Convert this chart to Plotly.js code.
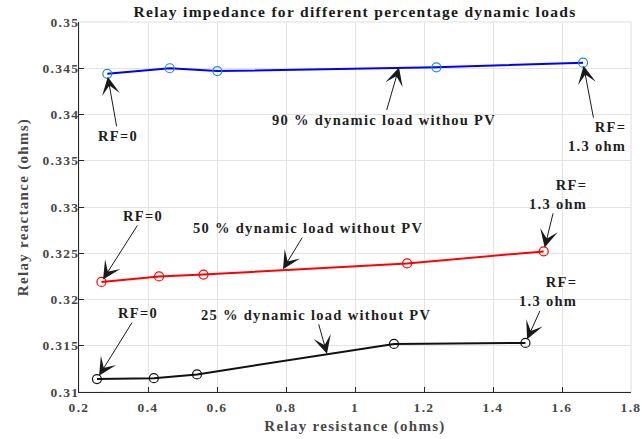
<!DOCTYPE html>
<html>
<head>
<meta charset="utf-8">
<script src="https://cdn.plot.ly/plotly-3.0.1.min.js"></script>
<style>
  html, body { margin: 0; padding: 0; background: #ffffff; }
  #chart { width: 642px; height: 439px; }
  svg text { letter-spacing: 1.3px; }
</style>
</head>
<body>
<div id="chart"></div>
<script>
// ---- data ----
const load90X = [0.282, 0.463, 0.601, 1.236, 1.661];
const load90Y = [0.3444, 0.3450, 0.3447, 0.3451, 0.3456];

const load50X = [0.265, 0.432, 0.561, 1.151, 1.547];
const load50Y = [0.3219, 0.3225, 0.3227, 0.3239, 0.3252];

const load25X = [0.252, 0.417, 0.542, 1.113, 1.494];
const load25Y = [0.3114, 0.3115, 0.3119, 0.3152, 0.3153];

const seriesNames = ['90 % dynamic load withou PV', '50 % dynamic load without PV', '25 % dynamic load without PV'];
const startLabel = 'RF=0';
const endLabel = 'RF=<br>1.3 ohm';
// points on the lines where the description arrows land
const labelPointX = [1.1275, 0.7913, 0.9188];
const labelPointY = [0.34508, 0.32328, 0.31413];

const serif = 'Liberation Serif, Times New Roman, serif';

function trace(x, y, lineColor, markerColor) {
  return {
    x: x, y: y, type: 'scatter', mode: 'lines+markers',
    line: {color: lineColor, width: 2},
    marker: {symbol: 'circle-open', size: 9, color: markerColor, line: {width: 1.2, color: markerColor}},
    hoverinfo: 'skip', showlegend: false
  };
}

const data = [
  trace(load90X, load90Y, '#0000ff', '#1c8ae0'),
  trace(load50X, load50Y, '#ff0000', '#ff0000'),
  trace(load25X, load25Y, '#111111', '#111111')
];

function ann(x, y, text, ax, ay, standoff, align) {
  return {
    x: x, y: y, xref: 'x', yref: 'y', text: text,
    showarrow: true, ax: ax, ay: ay,
    arrowhead: 3, arrowsize: 3, arrowwidth: 1, arrowcolor: '#1a1a1a',
    standoff: standoff || 0,
    align: align || 'center',
    font: {family: serif, size: 14.5, color: '#1e1e1e', weight: 'bold'},
    borderpad: 1
  };
}

const annotations = [
  ann(load90X[0], load90Y[0], startLabel, 11, 62, 3),
  ann(labelPointX[0], labelPointY[0], seriesNames[0], -15, 52, 0),
  ann(load90X[4], load90Y[4], endLabel, 14, 74, 3, 'right'),

  ann(load50X[0], load50Y[0], startLabel, 42, -66, 3),
  ann(labelPointX[1], labelPointY[1], seriesNames[1], 25, -41, 0),
  ann(load50X[4], load50Y[4], endLabel, 14, -57, 4, 'right'),

  ann(load25X[0], load25Y[0], startLabel, 41, -66, 4),
  ann(labelPointX[2], labelPointY[2], seriesNames[2], -11, -39, 0),
  ann(load25X[4], load25Y[4], endLabel, 23, -51, 4, 'right')
];

const layout = {
  width: 642, height: 439,
  margin: {l: 79, r: 11, t: 22, b: 47, pad: 0},
  paper_bgcolor: '#ffffff', plot_bgcolor: '#ffffff',
  title: {
    text: 'Relay impedance for different percentage dynamic loads',
    font: {family: serif, size: 15.5, color: '#1a1a1a', weight: 'bold'},
    x: 0.553, xref: 'container', xanchor: 'center',
    y: 1 - 12 / 439, yref: 'container', yanchor: 'middle'
  },
  xaxis: {
    range: [0.2, 1.8], tick0: 0.2, dtick: 0.2,
    ticks: 'inside', ticklen: 5, tickwidth: 1, tickcolor: '#262626',
    showline: true, linecolor: '#262626', linewidth: 1,
    showgrid: true, gridcolor: '#e3e3e3', gridwidth: 1, zeroline: false,
    tickfont: {family: serif, size: 13.5, color: '#474747', weight: 'bold'},
    ticklabelstandoff: 3,
    title: {text: 'Relay resistance (ohms)', font: {family: serif, size: 15, color: '#474747', weight: 'bold'}, standoff: 6},
    automargin: false, fixedrange: true
  },
  yaxis: {
    range: [0.31, 0.35], tick0: 0.31, dtick: 0.005,
    ticks: 'inside', ticklen: 5, tickwidth: 1, tickcolor: '#262626',
    showline: true, linecolor: '#262626', linewidth: 1,
    showgrid: true, gridcolor: '#e3e3e3', gridwidth: 1, zeroline: false,
    tickfont: {family: serif, size: 13.5, color: '#474747', weight: 'bold'},
    ticklabelstandoff: -4,
    title: {text: 'Relay reactance (ohms)', font: {family: serif, size: 15, color: '#474747', weight: 'bold'}, standoff: 10},
    automargin: false, fixedrange: true
  },
  shapes: [{
    type: 'rect', xref: 'paper', yref: 'paper', x0: 0, x1: 1, y0: 0, y1: 1,
    line: {color: '#dedede', width: 1}, layer: 'below'
  }],
  annotations: annotations
};

Plotly.newPlot('chart', data, layout, {displayModeBar: false, staticPlot: true});
</script>
</body>
</html>
